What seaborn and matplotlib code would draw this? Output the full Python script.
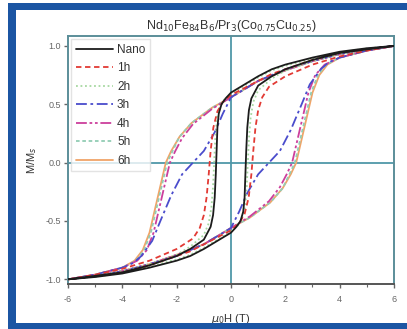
import numpy as np
import pandas as pd
import seaborn as sns
import matplotlib.pyplot as plt
from matplotlib.patches import Rectangle


# --- hysteresis loops M/Ms vs mu0 H ---
# each loop: field sweep +6 -> -6 T then back -6 -> +6 T

h_nano = [6, 5, 4, 3, 2, 1.5, 1, 0.5, 0, -0.2, -0.35, -0.45, -0.5, -0.53, -0.56, -0.6, -0.66, -0.75, -1, -1.5, -2, -3, -4, -5, -6,
          -5, -4, -3, -2, -1.5, -1, -0.5, 0, 0.2, 0.35, 0.45, 0.5, 0.53, 0.56, 0.6, 0.66, 0.75, 1, 1.5, 2, 3, 4, 5, 6]
m_nano = [1.0, 0.98, 0.95, 0.9, 0.84, 0.8, 0.74, 0.67, 0.6, 0.55, 0.5, 0.42, 0.3, 0.1, -0.1, -0.3, -0.45, -0.55, -0.66, -0.74, -0.8, -0.88, -0.94, -0.97, -1.0,
          -0.98, -0.95, -0.9, -0.84, -0.8, -0.74, -0.67, -0.6, -0.55, -0.5, -0.42, -0.3, -0.1, 0.1, 0.3, 0.45, 0.55, 0.66, 0.74, 0.8, 0.88, 0.94, 0.97, 1.0]

h_1h = [6, 5, 4, 3, 2, 1.5, 1, 0.5, 0, -0.3, -0.5, -0.65, -0.75, -0.82, -0.9, -1.0, -1.15, -1.4, -2, -3, -4, -5, -6,
        -5, -4, -3, -2, -1.5, -1, -0.5, 0, 0.3, 0.5, 0.65, 0.75, 0.82, 0.9, 1.0, 1.15, 1.4, 2, 3, 4, 5, 6]
m_1h = [1.0, 0.975, 0.94, 0.88, 0.8, 0.76, 0.7, 0.64, 0.58, 0.52, 0.44, 0.3, 0.1, -0.1, -0.3, -0.45, -0.56, -0.65, -0.74, -0.84, -0.91, -0.96, -1.0,
        -0.975, -0.94, -0.88, -0.8, -0.76, -0.7, -0.64, -0.58, -0.52, -0.44, -0.3, -0.1, 0.1, 0.3, 0.45, 0.56, 0.65, 0.74, 0.84, 0.91, 0.96, 1.0]

h_2h = [6, 5, 4, 3, 2, 1.5, 1, 0.5, 0, -0.25, -0.4, -0.52, -0.58, -0.62, -0.66, -0.72, -0.82, -1, -1.5, -2, -3, -4, -5, -6,
        -5, -4, -3, -2, -1.5, -1, -0.5, 0, 0.25, 0.4, 0.52, 0.58, 0.62, 0.66, 0.72, 0.82, 1, 1.5, 2, 3, 4, 5, 6]
m_2h = [1.0, 0.978, 0.945, 0.89, 0.83, 0.79, 0.73, 0.66, 0.59, 0.54, 0.48, 0.38, 0.2, 0.0, -0.2, -0.38, -0.52, -0.62, -0.72, -0.79, -0.87, -0.93, -0.97, -1.0,
        -0.978, -0.945, -0.89, -0.83, -0.79, -0.73, -0.66, -0.59, -0.54, -0.48, -0.38, -0.2, 0.0, 0.2, 0.38, 0.52, 0.62, 0.72, 0.79, 0.87, 0.93, 0.97, 1.0]

h_3h = [6, 5, 4, 3.5, 3, 2, 1, 0.5, 0, -0.3, -0.6, -1.0, -1.4, -1.8, -2.2, -2.6, -2.9, -3.3, -3.6, -4, -5, -6,
        -5, -4, -3, -2, -1, -0.5, 0, 0.3, 0.6, 1.0, 1.4, 1.8, 2.2, 2.6, 2.9, 3.3, 3.6, 4, 5, 6]
m_3h = [1.0, 0.975, 0.93, 0.9, 0.87, 0.8, 0.7, 0.63, 0.56, 0.42, 0.26, 0.1, 0.0, -0.1, -0.28, -0.5, -0.67, -0.8, -0.86, -0.9, -0.96, -1.0,
        -0.975, -0.93, -0.87, -0.8, -0.7, -0.63, -0.56, -0.42, -0.26, -0.1, 0.0, 0.1, 0.28, 0.5, 0.67, 0.8, 0.86, 0.9, 0.96, 1.0]

h_4h = [6, 5, 4, 3, 2, 1, 0.5, 0, -0.7, -1.4, -1.8, -2.05, -2.25, -2.4, -2.6, -2.85, -3.1, -3.45, -4, -5, -6,
        -5, -4, -3, -2, -1, -0.5, 0, 0.7, 1.4, 1.8, 2.05, 2.25, 2.4, 2.6, 2.85, 3.1, 3.45, 4, 5, 6]
m_4h = [1.0, 0.97, 0.93, 0.87, 0.79, 0.7, 0.63, 0.56, 0.46, 0.33, 0.21, 0.1, 0.0, -0.15, -0.35, -0.6, -0.75, -0.84, -0.9, -0.96, -1.0,
        -0.97, -0.93, -0.87, -0.79, -0.7, -0.63, -0.56, -0.46, -0.33, -0.21, -0.1, 0.0, 0.15, 0.35, 0.6, 0.75, 0.84, 0.9, 0.96, 1.0]

h_5h = [6, 5, 4, 3, 2, 1, 0.5, 0, -0.7, -1.45, -1.9, -2.15, -2.35, -2.5, -2.7, -2.95, -3.2, -3.5, -4, -5, -6,
        -5, -4, -3, -2, -1, -0.5, 0, 0.7, 1.45, 1.9, 2.15, 2.35, 2.5, 2.7, 2.95, 3.2, 3.5, 4, 5, 6]
m_5h = [1.0, 0.97, 0.93, 0.87, 0.79, 0.7, 0.63, 0.56, 0.47, 0.34, 0.22, 0.1, 0.0, -0.15, -0.35, -0.6, -0.75, -0.84, -0.9, -0.96, -1.0,
        -0.97, -0.93, -0.87, -0.79, -0.7, -0.63, -0.56, -0.47, -0.34, -0.22, -0.1, 0.0, 0.15, 0.35, 0.6, 0.75, 0.84, 0.9, 0.96, 1.0]

h_6h = [6, 5, 4, 3, 2, 1, 0.5, 0, -0.7, -1.45, -1.9, -2.2, -2.4, -2.55, -2.75, -3.0, -3.25, -3.55, -4, -5, -6,
        -5, -4, -3, -2, -1, -0.5, 0, 0.7, 1.45, 1.9, 2.2, 2.4, 2.55, 2.75, 3.0, 3.25, 3.55, 4, 5, 6]
m_6h = [1.0, 0.97, 0.93, 0.87, 0.79, 0.7, 0.63, 0.56, 0.47, 0.34, 0.22, 0.1, 0.0, -0.15, -0.35, -0.6, -0.75, -0.84, -0.9, -0.96, -1.0,
        -0.97, -0.93, -0.87, -0.79, -0.7, -0.63, -0.56, -0.47, -0.34, -0.22, -0.1, 0.0, 0.15, 0.35, 0.6, 0.75, 0.84, 0.9, 0.96, 1.0]

labels = ['Nano', '1h', '2h', '3h', '4h', '5h', '6h']
colors = ['#1c1c1c', '#e23a34', '#a6d8a0', '#4a4ccc', '#cc3f9c', '#92cdb4', '#f0a468']
dashes = ['-', (0, (3, 2)), (0, (1, 1.5)), (0, (6, 2, 1.5, 2)), (0, (6, 1.5, 1.5, 1.5, 1.5, 1.5)), (0, (2, 1.5)), '-']

loops = [(h_nano, m_nano), (h_1h, m_1h), (h_2h, m_2h), (h_3h, m_3h),
         (h_4h, m_4h), (h_5h, m_5h), (h_6h, m_6h)]

sns.set_style('ticks')
plt.rcParams['font.family'] = ['Liberation Sans', 'DejaVu Sans']

fig = plt.figure(figsize=(4.07, 3.29), dpi=100)
ax = fig.add_axes([68 / 407, 1 - 284 / 329, (394 - 68) / 407, (284 - 36) / 329])

ax.axhline(0, color='#4f97a8', lw=1.3, zorder=1)
ax.axvline(0, color='#4f97a8', lw=1.3, zorder=1)

# draw back to front so Nano sits on top
order = [6, 5, 4, 3, 2, 1, 0]
for i in order:
    h, m = loops[i]
    df = pd.DataFrame({'H': h, 'M': m})
    sns.lineplot(data=df, x='H', y='M', sort=False, estimator=None, ax=ax,
                 color=colors[i], lw=1.3, linestyle=dashes[i], zorder=3 + (6 - i))

handles = [plt.Line2D([], [], color=colors[i], lw=1.3, linestyle=dashes[i]) for i in range(7)]
leg = ax.legend(handles, labels, loc='upper left', fontsize=8.5, handlelength=3.2,
                labelspacing=0.55, borderaxespad=0.25, handletextpad=0.3,
                frameon=True, fancybox=False, edgecolor='#dddddd')
for t in leg.get_texts():
    t.set_color('#333333')

ax.set_xlim(-6, 6)
ax.set_ylim(-1.04, 1.085)
ax.set_xticks([-6, -4, -2, 0, 2, 4, 6])
ax.set_xticks([-5, -3, -1, 1, 3, 5], minor=True)
ax.set_yticks([-1.0, -0.5, 0.0, 0.5, 1.0])
ax.set_yticklabels(['-1.0', '-0.5', '0.0', '0.5', '1.0'])
ax.set_xticklabels(['-6', '-4', '-2', '0', '2', '4', '6'])
ax.tick_params(axis='both', labelsize=6.5, colors='#666666', length=3, width=1, pad=2)
ax.tick_params(axis='x', pad=5)
ax.tick_params(axis='x', which='minor', length=2, width=0.8, colors='#666666')
for s in ax.spines.values():
    s.set_visible(True)
    s.set_color('#5b8e99')
    s.set_linewidth(1.4)
ax.spines['bottom'].set_color('#555555')

ax.set_xlabel(r'$\mu_0$H (T)', fontsize=8, color='#333333', labelpad=6)
ax.set_ylabel(r'M/M$_s$', fontsize=8, color='#333333', labelpad=5)
ax.set_title(r'Nd$_{10}$Fe$_{84}$B$_6$/Pr$_3$(Co$_{0.75}$Cu$_{0.25}$)', fontsize=9,
             color='#333333', pad=5)

# blue page frame (left, top and bottom bands)
frame = dict(facecolor='#1b55a3', edgecolor='none', transform=fig.transFigure, zorder=10)
fig.patches.append(Rectangle((8 / 407, 0), 8 / 407, 1 - 3 / 329, **frame))
fig.patches.append(Rectangle((8 / 407, 1 - 10 / 329), 1, 7 / 329, **frame))
fig.patches.append(Rectangle((8 / 407, 0), 1, 6 / 329, **frame))

fig.savefig('out.png', dpi=100, facecolor='white')
